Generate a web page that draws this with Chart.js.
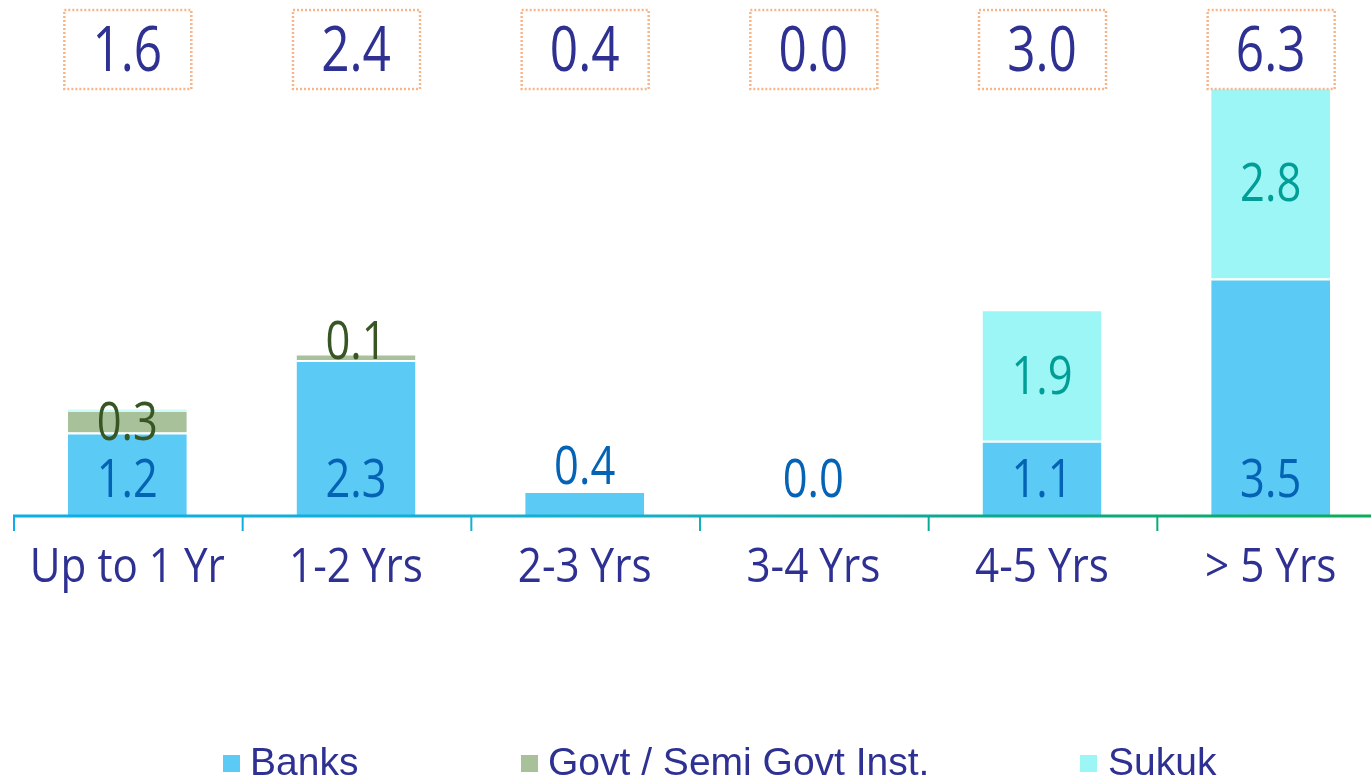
<!DOCTYPE html>
<html>
<head>
<meta charset="utf-8">
<script src="https://cdn.jsdelivr.net/npm/chart.js@4"></script>
<style>
  html, body { margin: 0; padding: 0; background: #fff; overflow: hidden; }
  #wrap { width: 1385px; height: 780px; }
</style>
</head>
<body>
<div id="wrap"><canvas id="maturityChart" width="1385" height="780"></canvas></div>
<script>
// categories + series
const categories = ['Up to 1 Yr', '1-2 Yrs', '2-3 Yrs', '3-4 Yrs', '4-5 Yrs', '> 5 Yrs'];
const banks = [1.23, 2.3, 0.37, 0, 1.11, 3.5];
const govt = [0.32, 0.08, null, null, null, null];
const sukuk = [0.03, null, null, null, 1.92, 2.8];
const seriesNames = ['Banks', 'Govt / Semi Govt Inst.', 'Sukuk'];

const barColors = ['#5BCBF5', '#A9C19B', '#9CF6F5'];
const labelColors = ['#0563B5', '#375623', '#009E96'];
const navy = '#2E3192';
const numFont = '"Open Sans", "Noto Sans", sans-serif';

// legend positions (x of square, x of text)
const legendPos = [[223, 250], [521, 548], [1080, 1108]];

function squeezeText(ctx, txt, x, y, sx) {
    ctx.save();
    ctx.translate(x, y);
    ctx.scale(sx, 1);
    ctx.fillText(txt, 0, 0);
    ctx.restore();
}

const labelsPlugin = {
    id: 'labelsPlugin',
    afterDatasetsDraw(chart) {
        const ctx = chart.ctx;
        const area = chart.chartArea;
        const xs = chart.scales.x;
        const base = chart.scales.y.getPixelForValue(0);
        const half = (xs.getPixelForValue(1) - xs.getPixelForValue(0)) / 2;

        // axis line with gradient + tick marks between categories
        const grad = ctx.createLinearGradient(area.left, 0, area.right, 0);
        grad.addColorStop(0, '#0BAEE8');
        grad.addColorStop(0.45, '#16B0C8');
        grad.addColorStop(0.7, '#0AA890');
        grad.addColorStop(1, '#0AAE55');
        ctx.save();
        ctx.strokeStyle = grad;
        ctx.lineWidth = 3;
        ctx.beginPath();
        ctx.moveTo(area.left, base);
        ctx.lineTo(area.right, base);
        ctx.stroke();
        ctx.lineWidth = 2;
        categories.forEach((c, i) => {
            const bx = xs.getPixelForValue(i) - half + 1;
            ctx.beginPath();
            ctx.moveTo(bx, base);
            ctx.lineTo(bx, base + 15);
            ctx.stroke();
        });
        ctx.restore();

        ctx.save();
        ctx.textAlign = 'center';
        ctx.textBaseline = 'alphabetic';

        // segment labels
        chart.data.datasets.forEach((ds, di) => {
            const meta = chart.getDatasetMeta(di);
            meta.data.forEach((bar, i) => {
                const v = ds.data[i];
                if (v === null) return;
                if (di > 0 && v < 0.05) return;
                const top = bar.y, bottom = bar.base;
                const h = bottom - top;
                let y;
                if (di === 0) {
                    y = h >= 50 ? base - 19 : Math.min(base - 19, top - 7);
                } else if (h < 15) {
                    y = top + 5;
                } else {
                    y = (top + bottom) / 2 + 18;
                }
                ctx.fillStyle = labelColors[di];
                ctx.font = '53px ' + numFont;
                squeezeText(ctx, v.toFixed(1), bar.x, y, 0.82);
            });
        });

        // totals in dotted boxes
        categories.forEach((c, i) => {
            const cx = xs.getPixelForValue(i);
            const total = (banks[i] || 0) + (govt[i] || 0) + (sukuk[i] || 0);
            ctx.setLineDash([2, 2]);
            ctx.lineWidth = 2.5;
            ctx.strokeStyle = '#F7B68A';
            ctx.strokeRect(cx - 63, 10, 127, 79);
            ctx.setLineDash([]);
            ctx.fillStyle = navy;
            ctx.font = '62px ' + numFont;
            squeezeText(ctx, total.toFixed(1), cx, 71, 0.8);

            // category label
            ctx.font = '48px ' + numFont;
            squeezeText(ctx, c, cx, 582, 0.88);
        });

        // legend
        ctx.textAlign = 'left';
        ctx.font = '39px "Liberation Sans", Arial, sans-serif';
        seriesNames.forEach((name, i) => {
            ctx.fillStyle = barColors[i];
            ctx.fillRect(legendPos[i][0], 755, 17, 17);
            ctx.fillStyle = navy;
            ctx.fillText(name, legendPos[i][1], 775);
        });
        ctx.restore();
    }
};

const ctx = document.getElementById('maturityChart');

new Chart(ctx, {
    type: 'bar',
    data: {
        labels: categories,
        datasets: [banks, govt, sukuk].map((d, i) => ({
            label: seriesNames[i],
            data: d,
            backgroundColor: barColors[i],
            borderColor: '#ffffff',
            borderWidth: { top: i === 0 ? 2 : 1, left: 0, right: 0, bottom: 0 },
            borderSkipped: false,
            categoryPercentage: 1,
            barPercentage: 0.52
        }))
    },
    options: {
        responsive: false,
        animation: false,
        devicePixelRatio: 1,
        layout: { padding: { left: 13, top: 9, right: 0, bottom: 0 } },
        plugins: {
            legend: { display: false },
            tooltip: { enabled: false }
        },
        scales: {
            x: {
                stacked: true,
                grid: { display: false },
                border: { display: false },
                ticks: { display: false },
                afterFit(s) { s.height = 264; }
            },
            y: {
                stacked: true,
                display: false,
                min: 0,
                max: 7.47
            }
        }
    },
    plugins: [labelsPlugin]
});
</script>
</body>
</html>
